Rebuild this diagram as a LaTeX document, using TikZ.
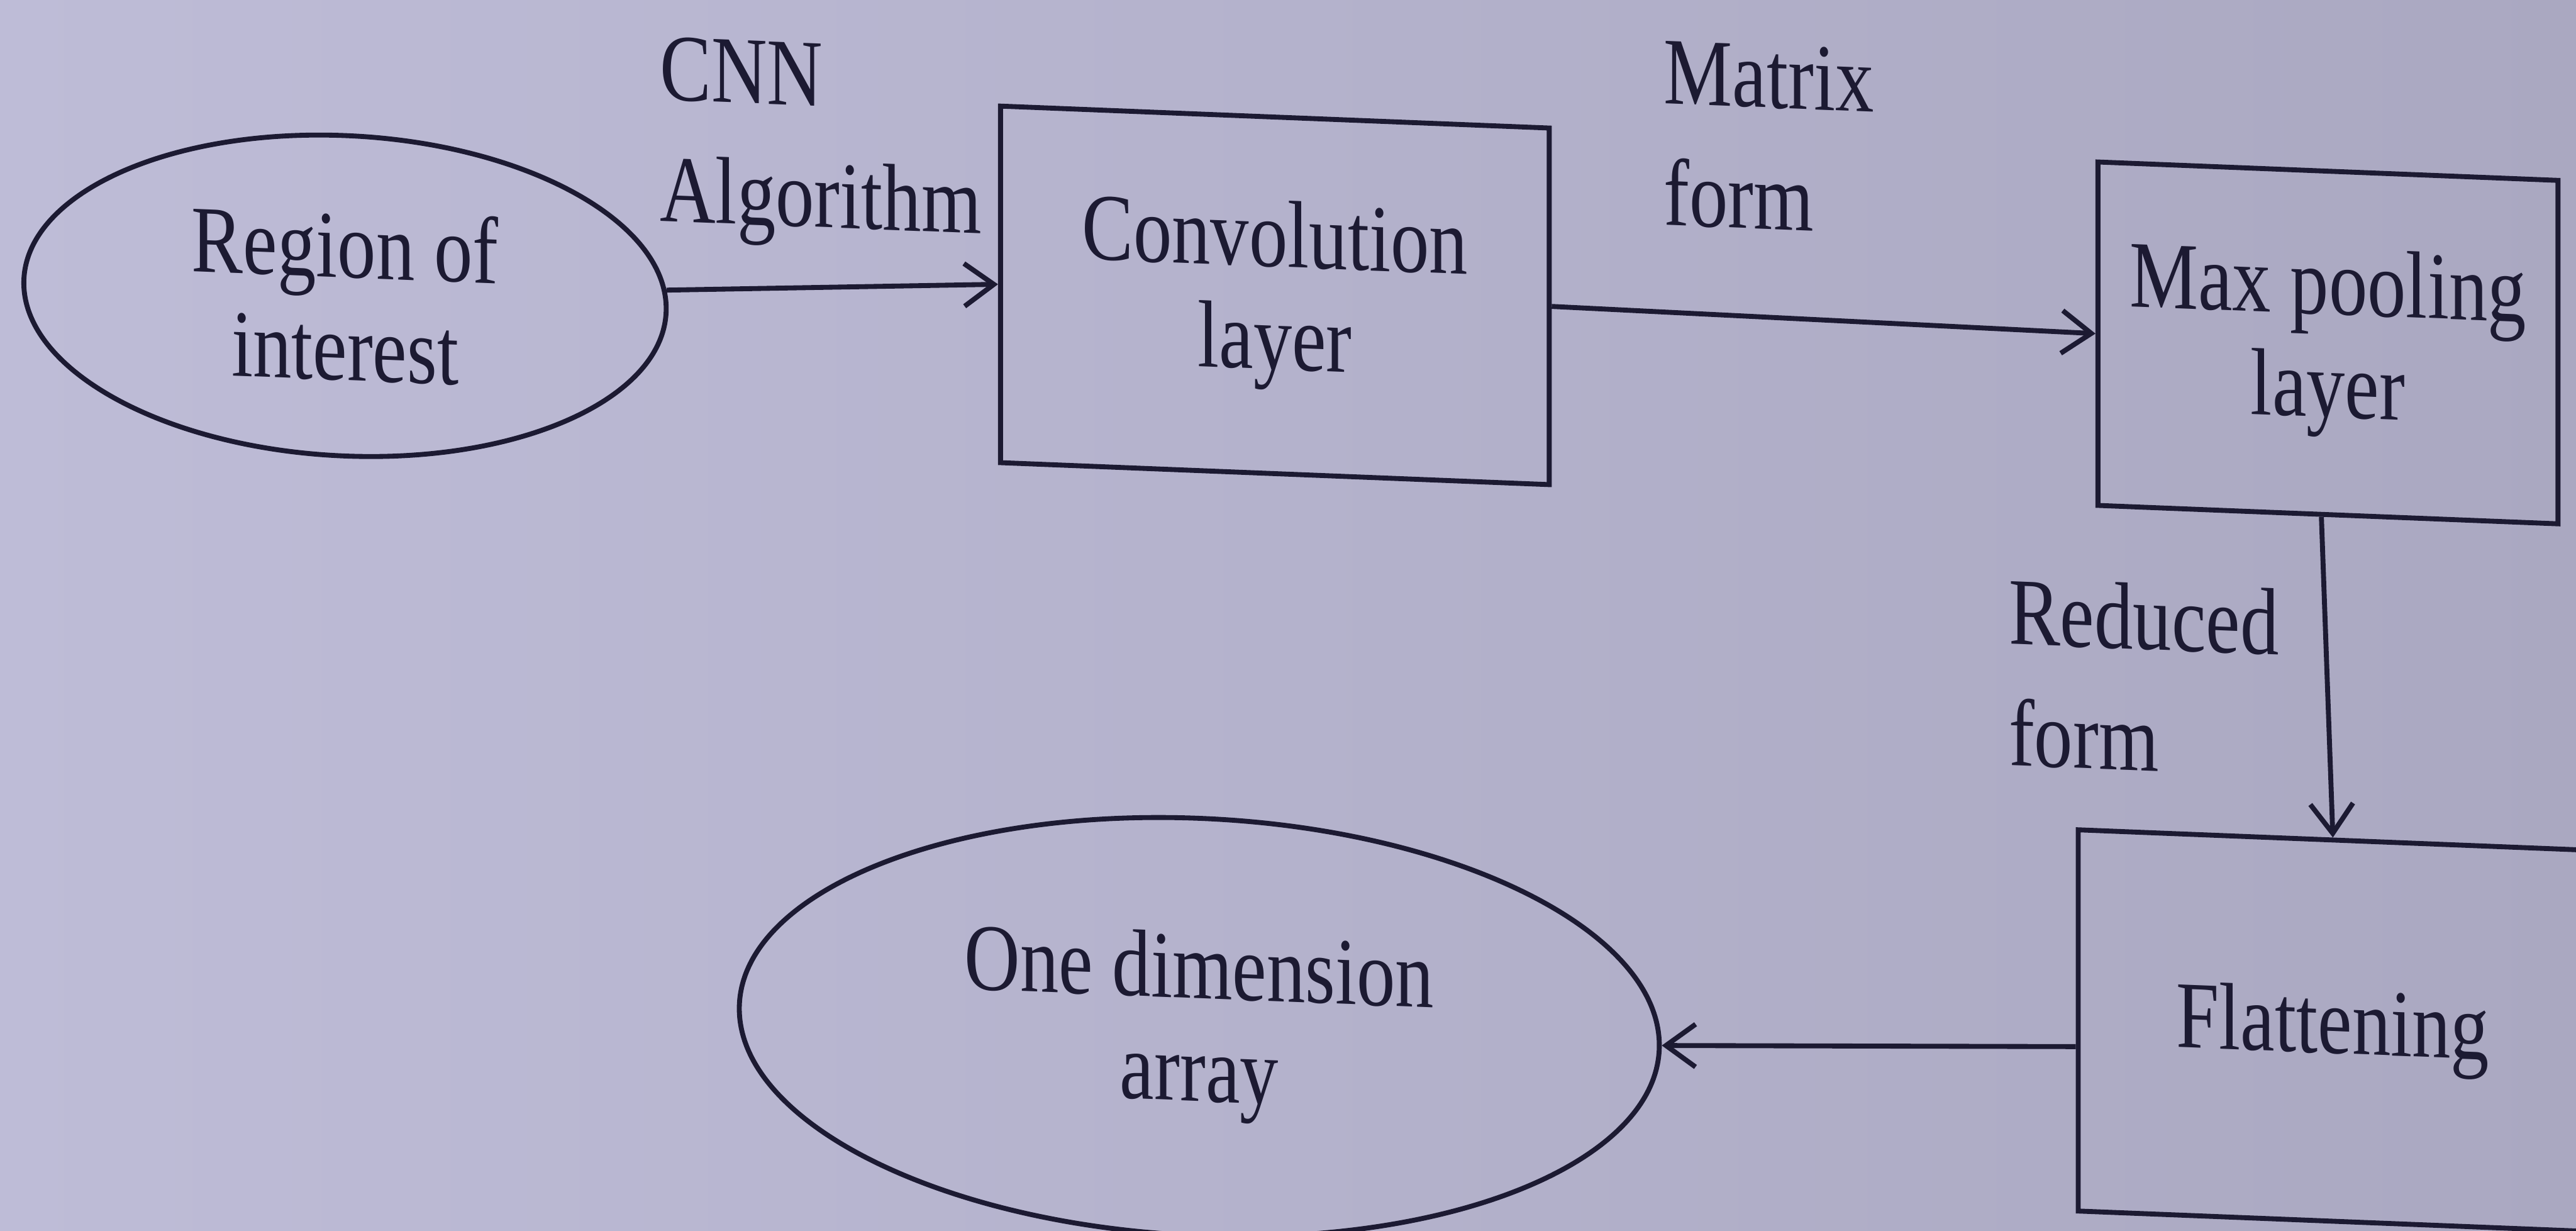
\documentclass[tikz,border=0pt]{standalone}
\usepackage{fontspec}
\setmainfont{Liberation Serif}[FakeStretch=0.81]
\usetikzlibrary{shapes.geometric,arrows.meta}
\definecolor{bgL}{RGB}{190,188,215}
\definecolor{bgR}{RGB}{170,168,193}
\definecolor{ink}{RGB}{28,26,50}
\tikzset{
  boxnode/.style={draw=ink, line width=0.03cm, rectangle, inner sep=0pt, align=center,
    text=ink, font=\fontsize{16.5}{17.8}\selectfont},
  ovalnode/.style={draw=ink, line width=0.03cm, ellipse, inner sep=0pt, align=center,
    text=ink, font=\fontsize{16.5}{17.8}\selectfont},
  lbl/.style={inner sep=0pt, align=left, anchor=west, text=ink,
    font=\fontsize{16.5}{21}\selectfont},
  arr/.style={draw=ink, line width=0.03cm, -{Straight Barb[length=1.8mm,width=2.6mm]}}
}
\begin{document}
\begin{tikzpicture}
\useasboundingbox (0,0) rectangle (15.68,7.49);
\shade[left color=bgL, right color=bgR] (0,0) rectangle (15.68,7.49);
\begin{scope}[yslant=-0.04, transform shape]
  \node[ovalnode, minimum width=3.91cm, minimum height=1.95cm] (roi) at (2.10,5.774) {Region of\\interest};
  \node[boxnode, minimum width=3.34cm, minimum height=2.17cm] (conv) at (7.76,6.003) {Convolution\\layer};
  \node[boxnode, minimum width=2.80cm, minimum height=2.09cm] (pool) at (14.17,5.97) {Max pooling\\layer};
  \node[boxnode, minimum width=3.10cm, minimum height=2.32cm] (flat) at (14.20,1.786) {Flattening};
  \node[ovalnode, minimum width=5.60cm, minimum height=2.54cm] (onedim) at (7.30,1.532) {One dimension\\array};
  \node[lbl] (cnn) at (4.01,6.805) {CNN\\Algorithm};
  \node[lbl] (matrix) at (10.12,7.085) {Matrix\\form};
  \node[lbl] (reduced) at (12.22,3.889) {Reduced\\form};
  \draw[arr] (roi) -- (conv.west);
  \draw[arr] (conv.east) -- (pool.west);
  \draw[arr] ([xshift=-0.04cm]pool.south) -- (flat.north);
  \draw[arr] ([yshift=-0.16cm]flat.west) -- (onedim.east);
\end{scope}
\end{tikzpicture}
\end{document}
